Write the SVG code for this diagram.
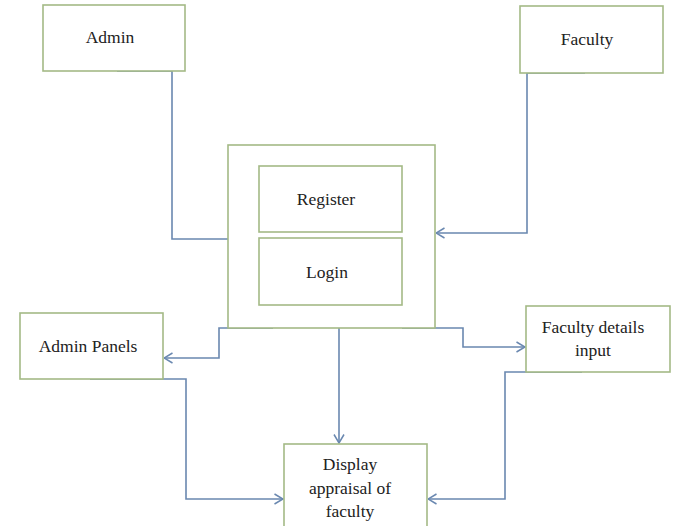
<svg xmlns="http://www.w3.org/2000/svg" width="674" height="526" viewBox="0 0 674 526">
<defs>
<style>
.box{fill:#ffffff;stroke:#a4ba86;stroke-width:1.6}
.lbl{font-family:"Liberation Serif","Times New Roman",serif;font-size:17.5px;fill:#222222;text-anchor:middle}
.conn{fill:none;stroke:#6a88b0;stroke-width:1.6}
</style>
<marker id="arr" viewBox="0 0 10 12" refX="9.5" refY="6" markerWidth="10" markerHeight="12" markerUnits="userSpaceOnUse" orient="auto">
<path d="M1,1 L9.5,6 L1,11" fill="none" stroke="#6a88b0" stroke-width="1.5"/>
</marker>
</defs>
<rect width="674" height="526" fill="#ffffff"/>
<g id="connectors">
<path class="conn" d="M117,71 H172 V239 H228"/>
<path class="conn" d="M585,73 H527 V233 H436" marker-end="url(#arr)"/>
<path class="conn" d="M273,328 H219 V358 H164" marker-end="url(#arr)"/>
<path class="conn" d="M90,379 H186 V499 H283" marker-end="url(#arr)"/>
<path class="conn" d="M339,328 V443" marker-end="url(#arr)"/>
<path class="conn" d="M402,328 H463 V347 H525" marker-end="url(#arr)"/>
<path class="conn" d="M582,372 H505 V499 H428" marker-end="url(#arr)"/>
</g>
<g id="admin">
<rect class="box" x="43" y="5" width="142" height="66"/>
<text class="lbl" x="110" y="43">Admin</text>
</g>
<g id="faculty">
<rect class="box" x="520" y="6" width="143" height="67"/>
<text class="lbl" x="587" y="45">Faculty</text>
</g>
<g id="auth">
<rect class="box" x="228" y="145" width="207" height="183" fill="none"/>
</g>
<g id="register">
<rect class="box" x="259" y="166" width="143" height="66"/>
<text class="lbl" x="326" y="205">Register</text>
</g>
<g id="login">
<rect class="box" x="259" y="238" width="143" height="67"/>
<text class="lbl" x="327" y="278">Login</text>
</g>
<g id="admin-panels">
<rect class="box" x="20" y="313" width="143" height="66"/>
<text class="lbl" x="88" y="352">Admin Panels</text>
</g>
<g id="faculty-details">
<rect class="box" x="526" y="306" width="144" height="66"/>
<text class="lbl" x="593" y="333">Faculty details</text>
<text class="lbl" x="593" y="356">input</text>
</g>
<g id="display">
<rect class="box" x="284" y="444" width="143" height="90"/>
<text class="lbl" x="350" y="470">Display</text>
<text class="lbl" x="350" y="494">appraisal of</text>
<text class="lbl" x="350" y="517">faculty</text>
</g>
</svg>
